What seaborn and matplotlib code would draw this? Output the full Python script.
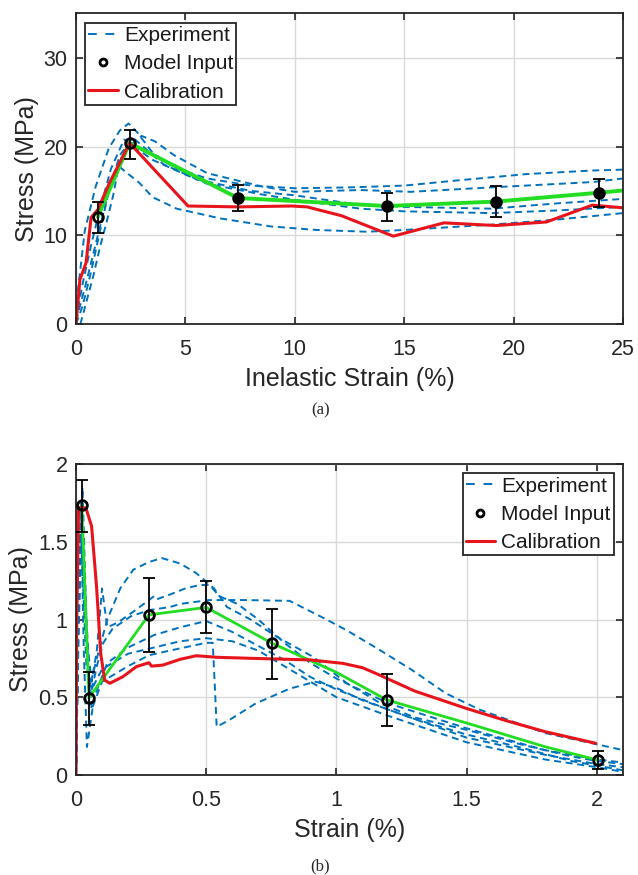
import numpy as np
import pandas as pd
import matplotlib
matplotlib.use("Agg")
import matplotlib.pyplot as plt
from matplotlib.lines import Line2D
import seaborn as sns

# ---------------- (a) inelastic strain vs stress ----------------
exp_a = [
    ([0.0, 0.1, 0.4, 0.9, 1.5, 2.0, 2.4, 2.8, 3.5, 4.5, 6.0, 8.0, 10.0, 12.5, 15.0, 17.5, 20.6, 23.6, 25.0],
     [1.0, 4.0, 10.5, 15.5, 19.8, 21.8, 22.6, 21.6, 19.3, 17.6, 16.4, 15.6, 15.3, 15.4, 15.6, 16.2, 16.9, 17.3, 17.4]),
    ([0.0, 0.5, 1.0, 1.5, 2.2, 3.0, 3.6, 4.5, 6.0, 8.5, 10.0, 13.0, 15.3, 19.0, 23.6, 25.0],
     [0.3, 5.0, 10.0, 15.0, 19.5, 21.2, 20.6, 19.0, 17.0, 15.5, 14.9, 15.1, 14.9, 15.4, 16.0, 16.4]),
    ([0.0, 0.3, 0.7, 1.1, 1.6, 2.2, 3.5, 5.5, 8.0, 10.0, 12.5, 15.0, 19.0, 22.0, 25.0],
     [0.5, 4.5, 9.0, 13.0, 17.5, 20.8, 18.5, 16.3, 15.0, 14.5, 13.6, 13.2, 13.0, 13.6, 14.1]),
    ([0.0, 0.3, 0.7, 1.1, 1.5, 2.0, 2.6, 4.0, 6.0, 8.5, 10.0, 13.0, 15.0, 19.0, 22.0, 25.0],
     [0.0, 2.0, 6.0, 10.5, 15.0, 19.0, 21.0, 18.0, 15.8, 14.6, 14.0, 13.0, 12.7, 12.5, 12.8, 13.2]),
    ([0.2, 0.4, 0.8, 1.1, 1.4, 1.7, 1.95, 2.24, 2.9, 3.5, 4.6, 6.6, 8.9, 11.0, 13.3, 15.0, 19.0, 22.1, 25.0],
     [0.0, 1.8, 5.5, 8.7, 11.5, 14.5, 17.8, 17.2, 15.9, 14.3, 13.0, 11.9, 11.0, 10.6, 10.4, 10.6, 11.2, 11.8, 12.5]),
]
model_a_x = [1.0, 2.45, 7.4, 14.2, 19.2, 23.9]
model_a_y = [12.1, 20.4, 14.2, 13.3, 13.8, 14.8]
model_a_lo = [10.3, 18.6, 12.7, 11.6, 12.1, 13.2]
model_a_hi = [13.75, 21.9, 15.7, 14.8, 15.6, 16.3]
green_a_x = [1.0, 2.45, 7.4, 14.2, 19.2, 23.9, 25.0]
green_a_y = [12.1, 20.4, 14.2, 13.3, 13.8, 14.8, 15.05]
calib_a_x = [0.0, 0.18, 0.46, 0.69, 1.0, 1.55, 2.45, 5.12, 7.4, 9.87, 10.56, 12.14, 14.5, 16.82, 19.2, 21.5, 23.6, 25.0]
calib_a_y = [0.0, 5.0, 6.9, 12.0, 12.9, 16.0, 20.4, 13.3, 13.2, 13.3, 13.2, 12.2, 9.9, 11.4, 11.1, 11.5, 13.4, 13.1]

# ---------------- (b) strain vs stress ----------------
exp_b = [
    ([0.0, 0.01, 0.02, 0.035, 0.05, 0.08, 0.12, 0.17, 0.22, 0.28, 0.33, 0.40, 0.46, 0.53, 0.58, 0.67, 0.77, 0.91, 1.04, 1.17, 1.3, 1.5, 1.7, 1.9, 2.0, 2.1],
     [0.0, 1.2, 1.75, 1.2, 0.55, 0.75, 1.0, 1.2, 1.32, 1.37, 1.395, 1.36, 1.30, 1.20, 1.08, 1.0, 0.89, 0.76, 0.59, 0.46, 0.37, 0.29, 0.2, 0.12, 0.09, 0.07]),
    ([0.0, 0.01, 0.02, 0.035, 0.055, 0.08, 0.105, 0.14, 0.21, 0.28, 0.36, 0.40, 0.51, 0.65, 0.82, 0.95, 1.04, 1.17, 1.29, 1.42, 1.55, 1.8, 2.06, 2.1],
     [0.0, 1.0, 1.65, 1.0, 0.5, 0.7, 0.85, 0.94, 1.02, 1.06, 1.08, 1.10, 1.125, 1.125, 1.12, 1.01, 0.93, 0.80, 0.675, 0.525, 0.42, 0.27, 0.175, 0.16]),
    ([0.0, 0.01, 0.025, 0.04, 0.06, 0.1, 0.2, 0.28, 0.36, 0.50, 0.525, 0.535, 0.54, 0.59, 0.69, 0.82, 0.92, 1.0, 1.1, 1.3, 1.5, 1.7, 1.9, 2.0, 2.1],
     [0.0, 1.3, 1.85, 1.0, 0.42, 0.6, 0.7, 0.77, 0.80, 0.85, 0.85, 0.50, 0.31, 0.355, 0.46, 0.555, 0.60, 0.56, 0.48, 0.36, 0.26, 0.18, 0.09, 0.06, 0.03]),
    ([0.0, 0.01, 0.02, 0.03, 0.042, 0.07, 0.12, 0.2, 0.3, 0.4, 0.5, 0.6, 0.7, 0.8, 0.9, 1.0, 1.2, 1.5, 1.8, 2.0, 2.1],
     [0.0, 1.1, 1.6, 0.8, 0.18, 0.5, 0.72, 0.82, 0.9, 0.95, 0.99, 0.92, 0.83, 0.74, 0.63, 0.55, 0.42, 0.24, 0.13, 0.07, 0.05]),
    ([0.0, 0.01, 0.02, 0.04, 0.06, 0.08, 0.1, 0.12, 0.16, 0.22, 0.3, 0.31, 0.36, 0.42, 0.475, 0.513, 0.55, 0.62, 0.7, 0.8, 0.9, 1.0, 1.2, 1.5, 1.8, 2.0, 2.1],
     [0.0, 1.2, 1.7, 0.9, 0.6, 0.8, 1.2, 0.95, 0.98, 1.05, 1.15, 1.13, 1.16, 1.2, 1.222, 1.222, 1.15, 1.1, 1.0, 0.85, 0.72, 0.62, 0.46, 0.3, 0.16, 0.1, 0.08]),
    ([0.0, 0.01, 0.02, 0.04, 0.06, 0.1, 0.2, 0.3, 0.4, 0.5, 0.6, 0.7, 0.8, 0.9, 1.0, 1.2, 1.5, 1.8, 2.0, 2.1],
     [0.0, 0.9, 1.5, 0.7, 0.55, 0.68, 0.78, 0.82, 0.86, 0.88, 0.86, 0.8, 0.7, 0.6, 0.5, 0.38, 0.21, 0.1, 0.05, 0.02]),
]
model_b_x = [0.022, 0.05, 0.28, 0.50, 0.753, 1.194, 2.004]
model_b_y = [1.736, 0.497, 1.03, 1.078, 0.847, 0.482, 0.096]
model_b_lo = [1.565, 0.32, 0.79, 0.91, 0.62, 0.315, 0.037]
model_b_hi = [1.90, 0.664, 1.265, 1.25, 1.066, 0.65, 0.154]
green_b_x = [0.022, 0.05, 0.28, 0.50, 0.753, 1.0, 1.194, 1.5, 1.8, 2.004]
green_b_y = [1.736, 0.497, 1.03, 1.078, 0.847, 0.66, 0.482, 0.334, 0.182, 0.096]
calib_b_x = [0.0, 0.003, 0.01, 0.038, 0.06, 0.079, 0.095, 0.11, 0.13, 0.18, 0.232, 0.28, 0.29, 0.334, 0.40, 0.462,
             0.539, 0.68, 0.794, 0.9, 1.024, 1.1, 1.165, 1.3, 1.497, 1.65, 1.80, 1.995]
calib_b_y = [0.0, 1.0, 1.72, 1.717, 1.6, 1.21, 0.78, 0.61, 0.59, 0.632, 0.697, 0.722, 0.70, 0.707, 0.744, 0.767,
             0.757, 0.75, 0.745, 0.74, 0.718, 0.69, 0.643, 0.54, 0.429, 0.35, 0.279, 0.204]

BLUE = "#0072BD"
RED = "#E8141C"
GREEN = "#22DD22"
INK = "#262626"
DASH = (0, (3.6, 2.4))

sns.set_theme(style="whitegrid")
plt.rcParams["font.family"] = ["Liberation Sans", "DejaVu Sans"]

fig = plt.figure(figsize=(6.38, 8.75), dpi=100)
ax_a = fig.add_axes([0.1191, 0.6297, 0.8574, 0.3549])
ax_b = fig.add_axes([0.1191, 0.1143, 0.8574, 0.3554])


def draw_panel(ax, exps, mx, my, mlo, mhi, gx, gy, cx, cy, green_lw, hollow):
    for xs, ys in exps:
        df = pd.DataFrame({"x": xs, "y": ys})
        sns.lineplot(data=df, x="x", y="y", ax=ax, color=BLUE, lw=1.4, sort=False,
                     estimator=None, linestyle=DASH)
    sns.lineplot(x=gx, y=gy, ax=ax, color=GREEN, lw=green_lw, sort=False, estimator=None)
    sns.lineplot(x=cx, y=cy, ax=ax, color=RED, lw=2.2, sort=False, estimator=None)
    mx = np.asarray(mx); my = np.asarray(my)
    yerr = [my - np.asarray(mlo), np.asarray(mhi) - my]
    ax.errorbar(mx, my, yerr=yerr, fmt="none", ecolor="black", elinewidth=1.3,
                capsize=4, capthick=1.3, zorder=5)
    for i in range(len(mx)):
        face = "none" if hollow[i] else "black"
        ax.plot(mx[i], my[i], "o", ms=7, mfc=face, mec="black", mew=2.0, zorder=6)


draw_panel(ax_a, exp_a, model_a_x, model_a_y, model_a_lo, model_a_hi,
           green_a_x, green_a_y, calib_a_x, calib_a_y, 2.8,
           [True, True, False, False, False, False])
draw_panel(ax_b, exp_b, model_b_x, model_b_y, model_b_lo, model_b_hi,
           green_b_x, green_b_y, calib_b_x, calib_b_y, 2.0,
           [True] * 7)

ax_a.set_xlim(0, 25)
ax_a.set_ylim(0, 35)
ax_a.set_xticks([0, 5, 10, 15, 20, 25])
ax_a.set_yticks([0, 10, 20, 30])
ax_a.set_xlabel("Inelastic Strain (%)", fontsize=18, labelpad=5)
ax_a.set_ylabel("Stress (MPa)", fontsize=18, labelpad=3)

ax_b.set_xlim(0, 2.1)
ax_b.set_ylim(0, 2)
ax_b.set_xticks([0, 0.5, 1, 1.5, 2])
ax_b.set_xticklabels(["0", "0.5", "1", "1.5", "2"])
ax_b.set_yticks([0, 0.5, 1, 1.5, 2])
ax_b.set_yticklabels(["0", "0.5", "1", "1.5", "2"])
ax_b.set_xlabel("Strain (%)", fontsize=18, labelpad=5)
ax_b.set_ylabel("Stress (MPa)", fontsize=18, labelpad=3)

handles = [
    Line2D([], [], color=BLUE, lw=1.4, linestyle=(0, (4.5, 4.5))),
    Line2D([], [], color="black", marker="o", ms=5, mfc="none", mew=2.0, lw=0),
    Line2D([], [], color=RED, lw=2.2),
]
names = ["Experiment", "Model Input", "Calibration"]

for ax, loc in ((ax_a, "upper left"), (ax_b, "upper right")):
    ax.grid(True, color="#d9d9d9", lw=1.0)
    ax.set_facecolor("white")
    for s in ax.spines.values():
        s.set_color(INK)
        s.set_linewidth(1.3)
        s.set_visible(True)
    ax.tick_params(direction="in", length=5, width=1.2, color=INK,
                   labelsize=15.5, labelcolor=INK, top=True, right=True,
                   bottom=True, left=True)
    ax.tick_params(axis="x", pad=11)
    ax.tick_params(axis="y", pad=6)
    ax.xaxis.label.set_color(INK)
    ax.yaxis.label.set_color(INK)
    leg = ax.legend(handles, names, loc=loc, fontsize=15, frameon=True, fancybox=False,
                    framealpha=1, edgecolor=INK, handlelength=1.4,
                    handletextpad=0.3, borderpad=0.15, labelspacing=0.45,
                    borderaxespad=0.45)
    leg.get_frame().set_linewidth(1.3)
    for t in leg.get_texts():
        t.set_color("#1a1a1a")
    ax.set_axisbelow(True)

fig.text(0.5017, 1 - 410 / 875, "(a)", ha="center", va="center", fontsize=12,
         family=["Liberation Serif", "DejaVu Serif"])
fig.text(0.5017, 1 - 866 / 875, "(b)", ha="center", va="center", fontsize=12,
         family=["Liberation Serif", "DejaVu Serif"])

fig.savefig("out.png", dpi=100, facecolor="white")
